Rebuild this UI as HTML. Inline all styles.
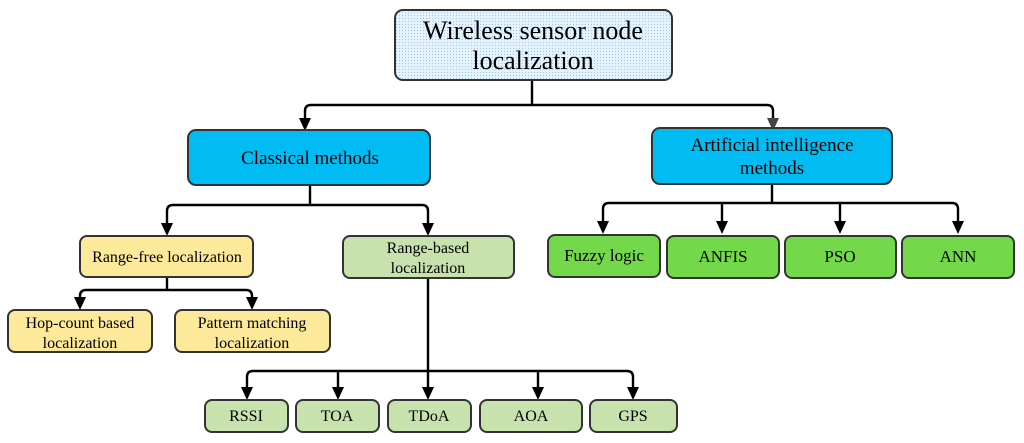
<!DOCTYPE html>
<html><head><meta charset="utf-8"><style>
html,body{margin:0;padding:0;background:#fff}
svg{display:block}
text{font-family:"Liberation Serif",serif;fill:#000;text-anchor:middle}
</style></head><body>
<svg width="1024" height="443" viewBox="0 0 1024 443" xmlns="http://www.w3.org/2000/svg">
<defs>
<pattern id="dots" width="3" height="3" patternUnits="userSpaceOnUse">
<rect width="3" height="3" fill="#e4f2fb"/><rect width="1" height="1" fill="#9fc9e8"/>
</pattern>
</defs>
<g fill="none" stroke="#000" stroke-width="2.4">
<path d="M532,80 V105"/>
<path d="M305,124 V111 Q305,105 311,105 H767 Q773,105 773,111 V124"/>
<path d="M310,185 V205"/>
<path d="M167,228 V211 Q167,205 173,205 H422 Q428,205 428,211 V228"/>
<path d="M772,184 V203"/>
<path d="M603,226 V209 Q603,203 609,203 H952 Q958,203 958,209 V226"/>
<path d="M722,203 V226 M840,203 V226"/>
<path d="M167,277 V290"/>
<path d="M80,302 V296 Q80,290 86,290 H246 Q252,290 252,296 V302"/>
<path d="M428,278 V371"/>
<path d="M247,390 V377 Q247,371 253,371 H627 Q633,371 633,377 V390"/>
<path d="M338,371 V390 M428,371 V390 M538,371 V390"/>
</g>
<g fill="#000">
<path d="M299,118 L311,118 L305,131 Z"/>
<path d="M767,118 L779,118 L773,131 Z" fill="#444"/>
<path d="M161,223 L173,223 L167,236 Z"/>
<path d="M422,223 L434,223 L428,236 Z"/>
<path d="M597,221 L609,221 L603,234 Z"/>
<path d="M716,221 L728,221 L722,234 Z"/>
<path d="M834,221 L846,221 L840,234 Z"/>
<path d="M952,221 L964,221 L958,234 Z"/>
<path d="M74,297 L86,297 L80,310 Z"/>
<path d="M246,297 L258,297 L252,310 Z"/>
<path d="M241,387 L253,387 L247,400 Z"/>
<path d="M332,387 L344,387 L338,400 Z"/>
<path d="M422,387 L434,387 L428,400 Z"/>
<path d="M532,387 L544,387 L538,400 Z"/>
<path d="M627,387 L639,387 L633,400 Z"/>
</g>
<g stroke="#333" stroke-width="2">
<rect x="395" y="10" width="277" height="70" rx="8" fill="url(#dots)"/>
<rect x="188" y="130" width="242" height="55" rx="8" fill="#00bcf2"/>
<rect x="652" y="128" width="240" height="56" rx="8" fill="#00bcf2"/>
<rect x="80" y="236" width="173" height="41" rx="7" fill="#fde99a"/>
<rect x="343" y="236" width="171" height="42" rx="7" fill="#c8e2ae"/>
<rect x="8" y="310" width="144" height="42" rx="7" fill="#fde99a"/>
<rect x="175" y="310" width="155" height="42" rx="7" fill="#fde99a"/>
<rect x="548" y="235" width="112" height="42" rx="7" fill="#74d94a"/>
<rect x="667" y="236" width="112" height="42" rx="7" fill="#74d94a"/>
<rect x="785" y="236" width="111" height="42" rx="7" fill="#74d94a"/>
<rect x="902" y="236" width="112" height="42" rx="7" fill="#74d94a"/>
<rect x="205" y="400" width="83" height="32" rx="7" fill="#c8e2ae"/>
<rect x="296" y="400" width="83" height="32" rx="7" fill="#c8e2ae"/>
<rect x="388" y="400" width="83" height="32" rx="7" fill="#c8e2ae"/>
<rect x="480" y="400" width="102" height="32" rx="7" fill="#c8e2ae"/>
<rect x="590" y="400" width="87" height="32" rx="7" fill="#c8e2ae"/>
</g>
<text x="533" y="39" font-size="26">Wireless sensor node</text>
<text x="533" y="69" font-size="26">localization</text>
<text x="310" y="164" font-size="19">Classical methods</text>
<text x="772" y="151" font-size="19">Artificial intelligence</text>
<text x="772" y="174" font-size="19">methods</text>
<text x="167" y="262" font-size="16">Range-free localization</text>
<text x="428" y="253" font-size="16">Range-based</text>
<text x="428" y="273" font-size="16">localization</text>
<text x="80" y="328" font-size="16">Hop-count based</text>
<text x="80" y="348" font-size="16">localization</text>
<text x="252" y="328" font-size="16">Pattern matching</text>
<text x="252" y="348" font-size="16">localization</text>
<text x="604" y="261" font-size="17">Fuzzy logic</text>
<text x="723" y="262" font-size="17">ANFIS</text>
<text x="840" y="262" font-size="17">PSO</text>
<text x="958" y="262" font-size="17">ANN</text>
<text x="246" y="421" font-size="16">RSSI</text>
<text x="337" y="421" font-size="16">TOA</text>
<text x="429" y="421" font-size="16">TDoA</text>
<text x="531" y="421" font-size="16">AOA</text>
<text x="633" y="421" font-size="16">GPS</text>
</svg>
</body></html>
